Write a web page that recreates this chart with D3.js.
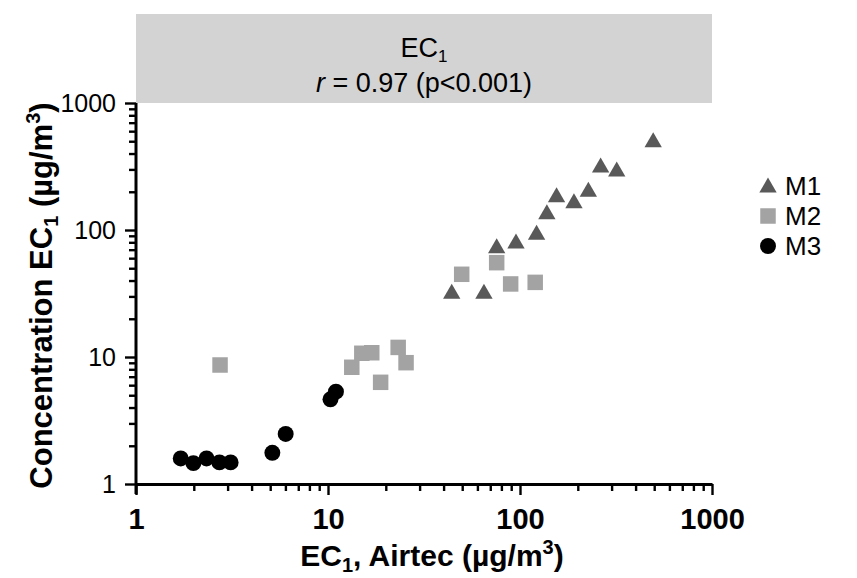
<!DOCTYPE html>
<html>
<head>
<meta charset="utf-8">
<script src="https://cdn.jsdelivr.net/npm/d3@7/dist/d3.min.js"></script>
<style>
  html, body { margin: 0; padding: 0; background: #fff; }
  svg { display: block; font-family: "Liberation Sans", Arial, sans-serif; }
</style>
</head>
<body>
<svg id="chart" width="857" height="578"></svg>
<script>
// EC1 personal monitors vs. Airtec reference (log-log)
const seriesNames = ["M1", "M2", "M3"];

const m1X = [44.1, 64.9, 75.6, 95.3, 122, 138, 155, 191, 227, 263, 319, 494];
const m1Y = [32.3, 32.3, 73.9, 80.5, 94.2, 137, 186, 167, 206, 319, 297, 505];

const m2X = [2.74, 13.3, 15.0, 16.9, 18.8, 23.2, 25.5, 49.7, 75.6, 89.4, 120];
const m2Y = [8.65, 8.3, 10.7, 10.8, 6.32, 11.9, 9.02, 44.8, 55.3, 37.6, 38.7];

const m3X = [1.71, 1.99, 2.33, 2.72, 3.11, 5.13, 6.02, 10.3, 11.0];
const m3Y = [1.59, 1.46, 1.59, 1.48, 1.48, 1.76, 2.48, 4.64, 5.33];

const majorTicks = [1, 10, 100, 1000];
const tickLabels = ["1", "10", "100", "1000"];
const minorTicks = [2,3,4,5,6,7,8,9,20,30,40,50,60,70,80,90,200,300,400,500,600,700,800,900];

const headerLine1 = "EC";
const headerLine2 = " = 0.97 (p<0.001)";

const FONT = "\"Liberation Sans\", Arial, sans-serif";
const svg = d3.select("#chart");

const x = d3.scaleLog().domain([1, 1000]).range([136, 712]);
const y = d3.scaleLog().domain([1, 1000]).range([484, 103]);

// Header band above the plot
svg.append("rect")
  .attr("x", x(1)).attr("y", 14)
  .attr("width", x(1000) - x(1)).attr("height", y(1000) - 14)
  .attr("fill", "#d3d3d3");

const hx = (x(1) + x(1000)) / 2;
const h1 = svg.append("text")
  .attr("x", hx).attr("y", 57)
  .attr("text-anchor", "middle").attr("font-size", 27).attr("fill", "#000");
h1.append("tspan").text(headerLine1);
h1.append("tspan").attr("font-size", 17).attr("dy", 5).text("1");

const h2 = svg.append("text")
  .attr("x", hx).attr("y", 92)
  .attr("text-anchor", "middle").attr("font-size", 27).attr("fill", "#000");
h2.append("tspan").attr("font-style", "italic").text("r");
h2.append("tspan").text(headerLine2);

// Axes
function styleAxis(g) {
  g.selectAll("path.domain").attr("stroke", "#000").attr("stroke-width", 3);
  g.selectAll(".tick line").attr("stroke", "#000").attr("stroke-width", 2.4);
}

const xMinor = svg.append("g").attr("transform", `translate(0,${y(1)})`)
  .call(d3.axisBottom(x).tickValues(minorTicks).tickSize(7).tickFormat(""));
styleAxis(xMinor);
xMinor.select("path.domain").remove();

const xAxis = svg.append("g").attr("transform", `translate(0,${y(1)})`)
  .call(d3.axisBottom(x).tickValues(majorTicks).tickSizeInner(11).tickSizeOuter(0)
    .tickPadding(13).tickFormat((d, i) => tickLabels[i]));
styleAxis(xAxis);
xAxis.selectAll(".tick text")
  .attr("font-size", 29).attr("font-weight", "bold").attr("fill", "#000")
  .attr("font-family", FONT);

const yMinor = svg.append("g").attr("transform", `translate(${x(1)},0)`)
  .call(d3.axisLeft(y).tickValues(minorTicks).tickSize(7).tickFormat(""));
styleAxis(yMinor);
yMinor.select("path.domain").remove();

const yAxis = svg.append("g").attr("transform", `translate(${x(1)},0)`)
  .call(d3.axisLeft(y).tickValues(majorTicks).tickSizeInner(11).tickSizeOuter(0)
    .tickPadding(9).tickFormat((d, i) => tickLabels[i]));
styleAxis(yAxis);
yAxis.selectAll(".tick text")
  .attr("font-size", 25).attr("fill", "#000")
  .attr("font-family", FONT);
// y axis line runs a little below the x axis, as a cross at the origin
yAxis.select("path.domain").attr("d", `M0,${y(1000)}V${y(1) + 10}`);

// Axis titles
const xt = svg.append("text")
  .attr("x", 432).attr("y", 566)
  .attr("text-anchor", "middle").attr("font-size", 30).attr("font-weight", "bold");
xt.append("tspan").text("EC");
xt.append("tspan").attr("font-size", 20).attr("dy", 6).text("1");
xt.append("tspan").attr("dy", -6).text(", Airtec (\u00b5g/m");
xt.append("tspan").attr("font-size", 20).attr("dy", -12).text("3");
xt.append("tspan").attr("dy", 12).text(")");

const yt = svg.append("text")
  .attr("transform", `translate(52,${(y(1) + y(1000)) / 2 + 2}) rotate(-90)`)
  .attr("text-anchor", "middle").attr("font-size", 31).attr("font-weight", "bold");
yt.append("tspan").text("Concentration EC");
yt.append("tspan").attr("font-size", 20).attr("dy", 6).text("1");
yt.append("tspan").attr("dy", -6).text(" (\u00b5g/m");
yt.append("tspan").attr("font-size", 20).attr("dy", -12).text("3");
yt.append("tspan").attr("dy", 12).text(")");

// Markers
const triSym = d3.symbol().type(d3.symbolTriangle).size(130);
const sqSym = d3.symbol().type(d3.symbolSquare).size(240);
const ciSym = d3.symbol().type(d3.symbolCircle).size(200);

const series = [
  { name: seriesNames[0], xs: m1X, ys: m1Y, sym: triSym, fill: "#595959", dy: 1.5 },
  { name: seriesNames[1], xs: m2X, ys: m2Y, sym: sqSym, fill: "#a3a3a3", dy: 0 },
  { name: seriesNames[2], xs: m3X, ys: m3Y, sym: ciSym, fill: "#000000", dy: 0 }
];

series.slice().reverse().forEach(s => {
  svg.append("g").selectAll("path")
    .data(s.xs.map((v, i) => [v, s.ys[i]]))
    .join("path")
    .attr("d", s.sym)
    .attr("transform", d => `translate(${x(d[0])},${y(d[1]) + s.dy})`)
    .attr("fill", s.fill);
});

// Legend
const legend = svg.append("g").attr("transform", "translate(768,186)");
series.forEach((s, i) => {
  const row = legend.append("g").attr("transform", `translate(0,${i * 30})`);
  row.append("path").attr("d", s.sym).attr("fill", s.fill)
    .attr("transform", `translate(0,${s.dy})`);
  row.append("text").attr("x", 17).attr("y", 9)
    .attr("font-size", 26).attr("fill", "#000").text(s.name);
});
</script>
</body>
</html>
